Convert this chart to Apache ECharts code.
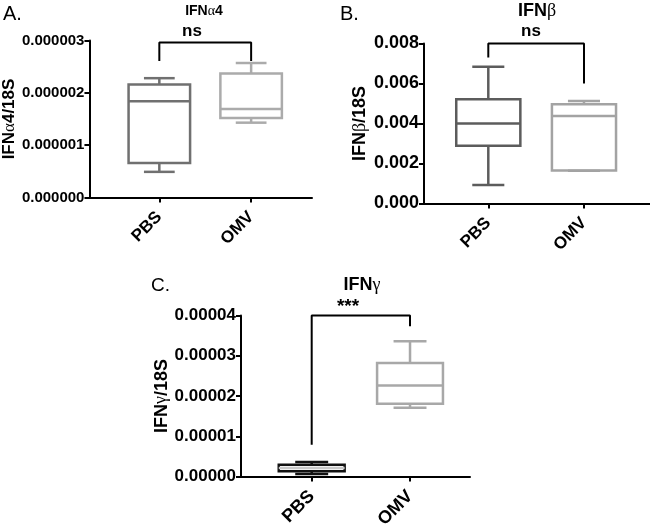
<!DOCTYPE html>
<html>
<head>
<meta charset="utf-8">
<script src="https://cdn.jsdelivr.net/npm/echarts@6/dist/echarts.min.js"></script>
<style>
html, body { margin: 0; padding: 0; background: #fff; }
#chart { width: 650px; height: 531px; }
</style>
</head>
<body>
<div id="chart"></div>
<script>
// 分组
var categories = ['PBS', 'OMV'];
var catPos = [1, 2];

// box stats: min, Q1, median, Q3, max
var ifna4PBS = [0.49e-6, 0.66e-6, 1.84e-6, 2.16e-6, 2.28e-6];
var ifna4OMV = [1.43e-6, 1.52e-6, 1.69e-6, 2.37e-6, 2.57e-6];
var ifnbPBS = [0.00092, 0.00289, 0.00400, 0.00521, 0.00684];
var ifnbOMV = [0.00164, 0.00165, 0.00438, 0.00496, 0.00512];
var ifngPBS = [0.06e-5, 0.13e-5, 0.21e-5, 0.29e-5, 0.36e-5];
var ifngOMV = [1.71e-5, 1.81e-5, 2.26e-5, 2.82e-5, 3.36e-5];

// significance brackets: left leg end, top, right leg end
var ifna4Bracket = [2.61e-6, 2.96e-6, 2.61e-6];
var ifnbBracket = [0.0073, 0.0080, 0.0060];
var ifngBracket = [0.79e-5, 4.0e-5, 3.73e-5];

// y axis ranges: max, interval
var ifna4Axis = [3e-6, 1e-6];
var ifnbAxis = [0.008, 0.002];
var ifngAxis = [4e-5, 1e-5];

var FONT = '"Liberation Sans", Arial, sans-serif';
var GREEK = '"Liberation Serif", "DejaVu Serif", serif';

function boxSeries(gi, pbs, omv, colors, medColors) {
    var data = [[catPos[0]].concat(pbs), [catPos[1]].concat(omv)];
    return {
        type: 'custom',
        xAxisIndex: gi,
        yAxisIndex: gi,
        data: data,
        encode: { x: 0, y: [1, 2, 3, 4, 5] },
        clip: false,
        renderItem: function (params, api) {
            var i = params.dataIndex;
            var x = api.value(0);
            var hw = api.size([0.67, 0])[0] / 2;
            var pMin = api.coord([x, api.value(1)]);
            var pQ1 = api.coord([x, api.value(2)]);
            var pMed = api.coord([x, api.value(3)]);
            var pQ3 = api.coord([x, api.value(4)]);
            var pMax = api.coord([x, api.value(5)]);
            var px = pMed[0];
            var st = { stroke: colors[i], lineWidth: 2.5, fill: 'none' };
            return {
                type: 'group',
                children: [
                    { type: 'line', shape: { x1: px, y1: pQ3[1], x2: px, y2: pMax[1] }, style: st },
                    { type: 'line', shape: { x1: px, y1: pQ1[1], x2: px, y2: pMin[1] }, style: st },
                    { type: 'line', shape: { x1: px - hw / 2, y1: pMax[1], x2: px + hw / 2, y2: pMax[1] }, style: st },
                    { type: 'line', shape: { x1: px - hw / 2, y1: pMin[1], x2: px + hw / 2, y2: pMin[1] }, style: st },
                    { type: 'rect', shape: { x: px - hw, y: pQ3[1], width: hw * 2, height: pQ1[1] - pQ3[1] }, style: st },
                    { type: 'line', shape: { x1: px - hw, y1: pMed[1], x2: px + hw, y2: pMed[1] },
                      style: { stroke: medColors[i], lineWidth: 2.5 } }
                ]
            };
        }
    };
}

function bracketSeries(gi, b) {
    return {
        type: 'line',
        xAxisIndex: gi,
        yAxisIndex: gi,
        symbol: 'none',
        clip: false,
        lineStyle: { color: '#000', width: 2 },
        data: [[catPos[0], b[0]], [catPos[0], b[1]], [catPos[1], b[1]], [catPos[1], b[2]]],
        silent: true
    };
}

function xAxisOf(gi, min, max, fs) {
    return {
        type: 'value',
        gridIndex: gi,
        min: min,
        max: max,
        splitLine: { show: false },
        axisLine: { show: true, lineStyle: { color: '#000', width: 2 } },
        axisTick: { show: true, customValues: catPos, length: 5, lineStyle: { color: '#000', width: 2 } },
        axisLabel: {
            customValues: catPos,
            rotate: 45,
            margin: 17,
            color: '#000',
            fontFamily: FONT,
            fontWeight: 'bold',
            fontSize: fs,
            formatter: function (v) { return categories[Math.round(v) - 1]; }
        }
    };
}

function yAxisOf(gi, ax, digits, fs, name, gap, nfs) {
    return {
        type: 'value',
        gridIndex: gi,
        min: 0,
        max: ax[0],
        interval: ax[1],
        splitLine: { show: false },
        axisLine: { show: true, lineStyle: { color: '#000', width: 2 } },
        axisTick: { show: true, length: 5, lineStyle: { color: '#000', width: 2 } },
        axisLabel: {
            margin: 5,
            color: '#000',
            fontFamily: FONT,
            fontWeight: 'bold',
            fontSize: fs,
            formatter: function (v) { return v.toFixed(digits); }
        },
        name: name,
        nameLocation: 'middle',
        nameGap: gap,
        nameTextStyle: {
            color: '#000',
            fontFamily: FONT,
            fontWeight: 'bold',
            fontSize: nfs,
            rich: { g: { fontFamily: GREEK, fontWeight: 'normal', fontSize: nfs, color: '#000' } }
        }
    };
}

function label(x, y, text, size, bold, align) {
    return {
        type: 'text',
        x: x,
        y: y,
        style: {
            text: text,
            fill: '#000',
            font: (bold ? 'bold ' : '') + size + 'px ' + FONT,
            align: align || 'center',
            verticalAlign: 'middle',
            rich: { g: { fontFamily: GREEK, fontWeight: 'normal', fontSize: size, fill: '#000' } }
        }
    };
}

var chart = echarts.init(document.getElementById('chart'), null, { renderer: 'canvas' });

var option = {
    backgroundColor: '#fff',
    animation: false,
    grid: [
        { left: 89, top: 40.5, width: 223, height: 157 },
        { left: 424, top: 43.5, width: 226, height: 160 },
        { left: 241, top: 315.5, width: 229, height: 164 }
    ],
    xAxis: [
        xAxisOf(0, 0.239, 2.663, 17),
        xAxisOf(1, 0.328, 2.69, 17),
        xAxisOf(2, 0.281, 2.61, 18)
    ],
    yAxis: [
        yAxisOf(0, ifna4Axis, 6, 15, 'IFN{g|α}4/18S', 68, 17),
        yAxisOf(1, ifnbAxis, 3, 18, 'IFN{g|β}/18S', 55, 18),
        yAxisOf(2, ifngAxis, 5, 17, 'IFN{g|γ}/18S', 57, 18)
    ],
    series: [
        boxSeries(0, ifna4PBS, ifna4OMV, ['#707070', '#ababab'], ['#707070', '#ababab']),
        bracketSeries(0, ifna4Bracket),
        boxSeries(1, ifnbPBS, ifnbOMV, ['#5c5c5c', '#a3a3a3'], ['#5c5c5c', '#a3a3a3']),
        bracketSeries(1, ifnbBracket),
        boxSeries(2, ifngPBS, ifngOMV, ['#111111', '#a8a8a8'], ['#c8c8c8', '#a8a8a8']),
        bracketSeries(2, ifngBracket)
    ],
    graphic: [
        label(3, 14, 'A.', 20, false, 'left'),
        label(204, 11, 'IFN{g|α}4', 14, true),
        label(192, 31, 'ns', 17, true),
        label(340, 14, 'B.', 20, false, 'left'),
        label(537, 11, 'IFN{g|β}', 18, true),
        label(531, 31, 'ns', 17, true),
        label(151, 286, 'C.', 19, false, 'left'),
        label(362, 285, 'IFN{g|γ}', 18, true),
        label(348, 307, '***', 19, true)
    ]
};

chart.setOption(option);
</script>
</body>
</html>
